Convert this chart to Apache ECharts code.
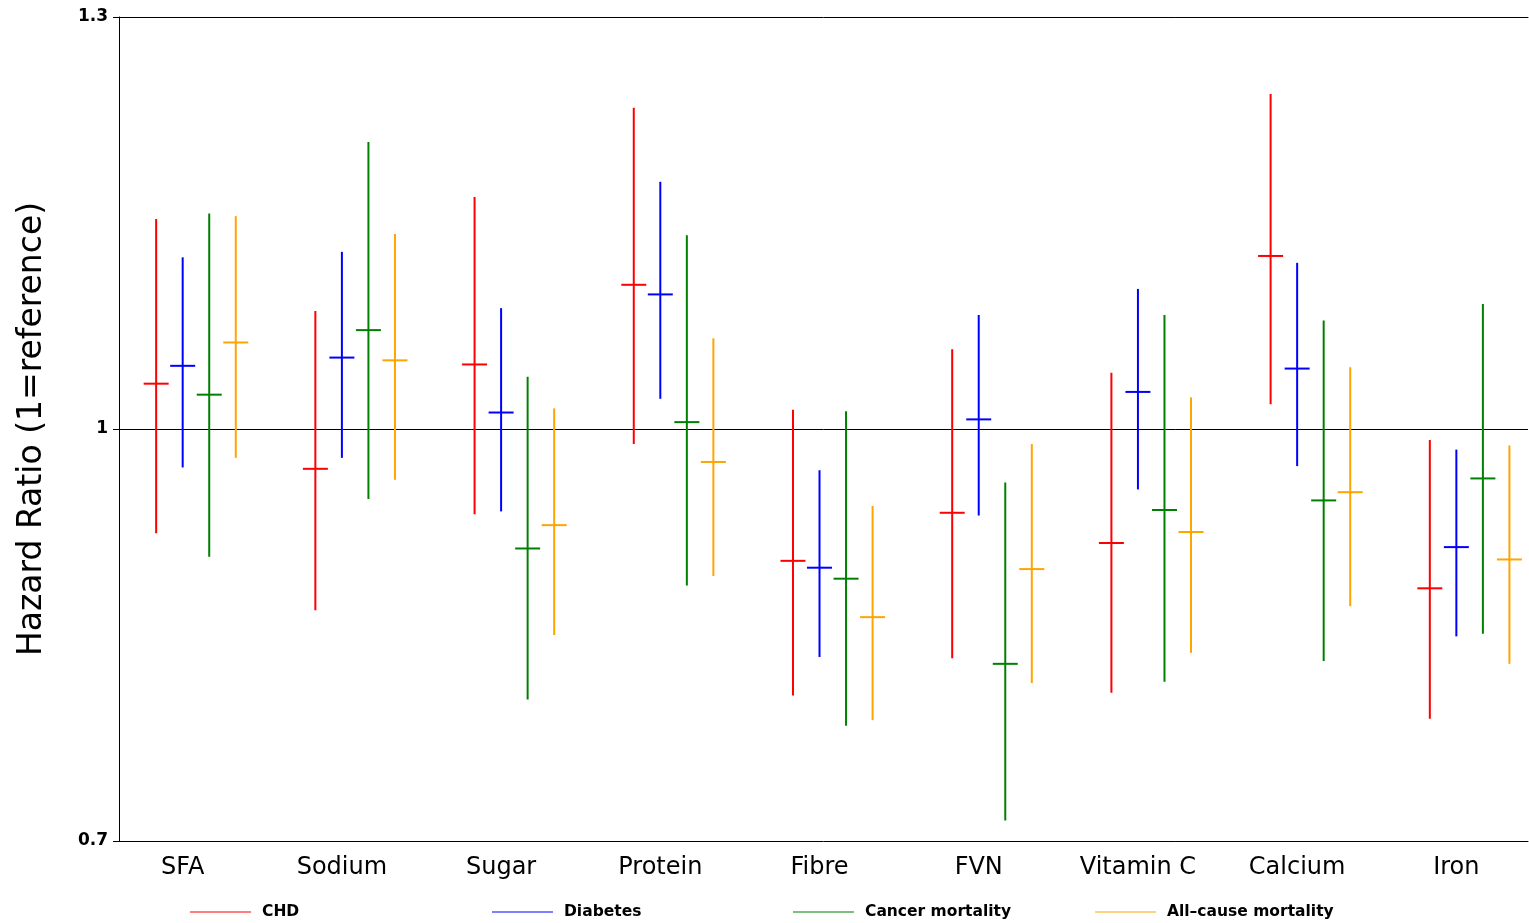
<!DOCTYPE html>
<html>
<head>
<meta charset="utf-8">
<script src="https://cdn.jsdelivr.net/npm/echarts@6/dist/echarts.min.js"></script>
<style>
  html, body { margin: 0; padding: 0; background: #fff; }
  #container { width: 1529px; height: 923px; }
</style>
</head>
<body>
<div id="container"></div>
<script>
var dom = document.getElementById("container");
var myChart = echarts.init(dom);

// nutrients, in axis order
var categories = ['SFA', 'Sodium', 'Sugar', 'Protein', 'Fibre', 'FVN', 'Vitamin C', 'Calcium', 'Iron'];

// [lower CI, hazard ratio, upper CI] for each nutrient
var chd = [
  [0.924, 1.033, 1.153], [0.868, 0.971, 1.086], [0.938, 1.047, 1.169],
  [0.989, 1.105, 1.234], [0.806, 0.904, 1.014], [0.833, 0.939, 1.058],
  [0.808, 0.917, 1.041], [1.018, 1.126, 1.244], [0.789, 0.884, 0.992]
];
var diabetes = [
  [0.972, 1.046, 1.125], [0.979, 1.052, 1.129], [0.940, 1.012, 1.088],
  [1.022, 1.098, 1.180], [0.834, 0.899, 0.970], [0.937, 1.007, 1.083],
  [0.956, 1.027, 1.102], [0.973, 1.044, 1.121], [0.849, 0.914, 0.985]
];
var cancer = [
  [0.907, 1.025, 1.157], [0.949, 1.072, 1.209], [0.803, 0.913, 1.038],
  [0.886, 1.005, 1.141], [0.784, 0.891, 1.013], [0.715, 0.829, 0.961],
  [0.816, 0.941, 1.083], [0.831, 0.948, 1.079], [0.851, 0.964, 1.091]
];
var allCause = [
  [0.979, 1.063, 1.155], [0.963, 1.050, 1.142], [0.850, 0.930, 1.015],
  [0.893, 0.976, 1.066], [0.788, 0.863, 0.944], [0.815, 0.898, 0.989],
  [0.837, 0.925, 1.023], [0.871, 0.954, 1.045], [0.829, 0.905, 0.988]
];

var yTicks = [0.7, 1, 1.3];

var stat = [
  { name: 'CHD', color: '#ff0000', offset: -1 / 6, data: chd, legendLeft: 190 },
  { name: 'Diabetes', color: '#0000ff', offset: 0, data: diabetes, legendLeft: 492 },
  { name: 'Cancer mortality', color: '#008000', offset: 1 / 6, data: cancer, legendLeft: 793 },
  { name: 'All\u2013cause mortality', color: '#ffa500', offset: 1 / 3, data: allCause, legendLeft: 1095 }
];

function renderItem(params, api) {
  var x = api.value(0);
  var lo = api.coord([x, api.value(1)]);
  var est = api.coord([x, api.value(2)]);
  var hi = api.coord([x, api.value(3)]);
  var style = { stroke: api.visual('color'), lineWidth: 2 };
  return {
    type: 'group',
    children: [
      { type: 'line', shape: { x1: lo[0], y1: lo[1], x2: hi[0], y2: hi[1] }, style: style },
      { type: 'line', shape: { x1: est[0] - 12.5, y1: est[1], x2: est[0] + 12.5, y2: est[1] }, style: style }
    ]
  };
}

var font = 'DejaVu Sans';

var option = {
  animation: false,
  grid: { left: 119, right: 1, top: 17, bottom: 82, containLabel: false },
  legend: stat.map(item => ({
    data: [{ name: item.name, itemStyle: { color: item.color, borderWidth: 0 } }],
    left: item.legendLeft,
    top: 904,
    padding: 0,
    icon: 'rect',
    itemWidth: 61,
    itemHeight: 1,
    textStyle: { fontFamily: font, fontWeight: 'bold', fontSize: 15.5, color: '#000', padding: [0, 0, 0, 6] }
  })),
  xAxis: [{
    type: 'value',
    min: 0.6,
    max: 9.45,
    axisLine: { show: true, lineStyle: { color: '#000', width: 1 } },
    axisTick: { show: false },
    splitLine: { show: false },
    axisLabel: {
      customValues: categories.map((c, i) => i + 1),
      formatter: v => categories[Math.round(v) - 1] || '',
      fontFamily: font,
      fontSize: 24,
      color: '#000',
      margin: 15
    }
  }, {
    type: 'value',
    position: 'top',
    min: 0.6,
    max: 9.45,
    axisLine: { show: true, lineStyle: { color: '#000', width: 1 } },
    axisTick: { show: false },
    axisLabel: { show: false },
    splitLine: { show: false }
  }],
  yAxis: {
    type: 'value',
    min: 0.7,
    max: 1.3,
    name: 'Hazard Ratio (1=reference)',
    nameLocation: 'middle',
    nameRotate: 90,
    nameGap: 70,
    nameTextStyle: { fontFamily: font, fontSize: 33, color: '#000' },
    axisLine: { show: true, lineStyle: { color: '#000', width: 1 } },
    axisTick: { show: true, length: 6, customValues: yTicks, lineStyle: { color: '#000' } },
    splitLine: { show: false },
    axisLabel: {
      customValues: yTicks,
      formatter: v => (Math.abs(v - 1) < 1e-9 ? '1' : v.toFixed(1)),
      fontFamily: font,
      fontWeight: 'bold',
      fontSize: 17,
      color: '#000',
      margin: 11
    }
  },
  series: stat.map((item, si) => ({
    name: item.name,
    type: 'custom',
    renderItem: renderItem,
    itemStyle: { color: item.color },
    encode: { x: 0, y: [1, 2, 3] },
    z: 3,
    data: item.data.map((d, i) => [i + 1 + item.offset, d[0], d[1], d[2]]),
    markLine: si === 0 ? {
      silent: true,
      symbol: 'none',
      label: { show: false },
      lineStyle: { color: '#000', width: 1, type: 'solid' },
      data: [{ yAxis: 1 }],
      z: 1
    } : undefined
  }))
};

if (option && typeof option === 'object') {
  myChart.setOption(option);
}
</script>
</body>
</html>
